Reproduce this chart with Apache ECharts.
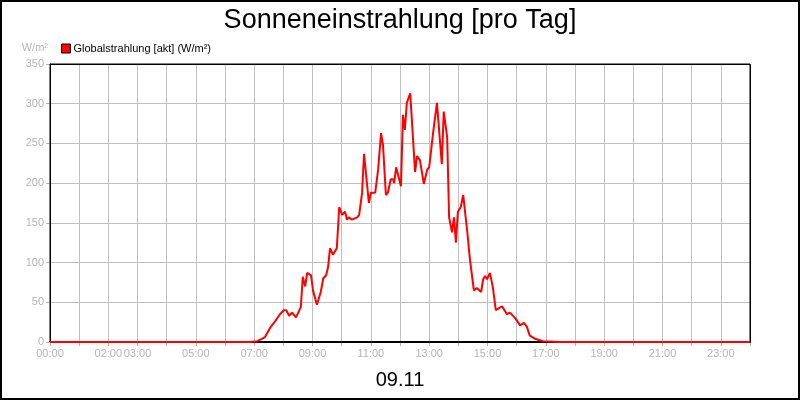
<!DOCTYPE html>
<html>
<head>
<meta charset="utf-8">
<script src="https://cdn.jsdelivr.net/npm/echarts@6/dist/echarts.min.js"></script>
<style>
  html, body { margin: 0; padding: 0; background: #fff; }
  #main { width: 800px; height: 400px; }
</style>
</head>
<body>
<div id="main"></div>
<script>
// Messzeitpunkte (HH:MM) und Werte in W/m²
var times = ['00:00', '06:51', '07:06', '07:16', '07:22', '07:33', '07:43', '07:53', '08:01', '08:06',
    '08:12', '08:18', '08:26', '08:30', '08:36', '08:40', '08:45', '08:49', '08:57', '09:01',
    '09:09', '09:11', '09:17', '09:22', '09:28', '09:32', '09:36', '09:42', '09:50', '09:55',
    '10:01', '10:07', '10:11', '10:15', '10:21', '10:32', '10:36', '10:42', '10:46', '10:56',
    '11:00', '11:09', '11:15', '11:21', '11:25', '11:31', '11:35', '11:41', '11:46', '11:48',
    '11:52', '11:56', '12:02', '12:06', '12:10', '12:14', '12:21', '12:31', '12:35', '12:41',
    '12:49', '12:56', '13:00', '13:08', '13:16', '13:26', '13:30', '13:37', '13:41', '13:47',
    '13:51', '13:55', '13:59', '14:05', '14:10', '14:18', '14:24', '14:32', '14:38', '14:42',
    '14:47', '14:51', '14:55', '14:59', '15:05', '15:11', '15:17', '15:22', '15:30', '15:40',
    '15:46', '15:57', '16:07', '16:15', '16:21', '16:27', '16:38', '16:54', '17:29', '24:00'];
var values = [0, 0, 1, 4, 6, 18, 26, 35, 40, 40,
    33, 37, 31, 31, 44, 82, 70, 87, 84, 65,
    47, 48, 63, 80, 84, 94, 118, 110, 118, 170,
    160, 164, 154, 157, 154, 157, 160, 188, 237, 175,
    188, 188, 217, 263, 248, 185, 188, 205, 205, 200,
    220, 220, 196, 286, 267, 301, 313, 214, 234, 229,
    199, 217, 220, 263, 301, 224, 290, 258, 157, 138,
    157, 125, 164, 170, 185, 141, 103, 65, 68, 69,
    63, 79, 83, 79, 87, 69, 40, 42, 45, 35,
    37, 30, 21, 24, 19, 8, 4, 1, 0, 0];
// beschriftete Stunden der x-Achse
var tickLabels = ['00:00', '02:00', '03:00', '05:00', '07:00', '09:00', '11:00',
    '13:00', '15:00', '17:00', '19:00', '21:00', '23:00'];

function toMin(s) {
    var p = s.split(':');
    return parseInt(p[0], 10) * 60 + parseInt(p[1], 10);
}

var points = [];
for (var i = 0; i < times.length; i++) {
    points.push([toMin(times[i]), values[i]]);
}

var font = '"Liberation Sans", Arial, sans-serif';
var grey = '#b4b4b4';

var myChart = echarts.init(document.getElementById('main'));

var option = {
    animation: false,
    backgroundColor: '#fff',
    textStyle: { fontFamily: font },
    title: {
        text: 'Sonneneinstrahlung [pro Tag]',
        left: 'center',
        top: 2,
        textStyle: { fontFamily: font, fontSize: 27, fontWeight: 'normal', color: '#000' }
    },
    legend: {
        left: 56,
        top: 38,
        icon: 'rect',
        itemWidth: 9,
        itemHeight: 9,
        itemGap: 4,
        textStyle: { fontFamily: font, fontSize: 11, color: '#000', padding: [0, 0, 0, -2] },
        data: [{ name: 'Globalstrahlung [akt] (W/m²)', itemStyle: { color: '#ff0000', borderColor: '#000', borderWidth: 1 } }]
    },
    grid: {
        left: 50,
        right: 50,
        top: 64,
        bottom: 58,
        show: true,
        borderColor: '#000',
        borderWidth: 1,
        z: 3
    },
    xAxis: {
        type: 'value',
        min: 0,
        max: 1440,
        interval: 60,
        name: '09.11',
        nameLocation: 'middle',
        nameGap: 28,
        nameTextStyle: { fontFamily: font, fontSize: 20, color: '#000' },
        axisLine: { lineStyle: { color: '#000', width: 2 } },
        axisTick: { show: true, length: 4, lineStyle: { color: grey } },
        axisLabel: {
            color: grey,
            fontSize: 11,
            margin: 6,
            formatter: function (v) {
                var h = Math.round(v / 60);
                var s = (h < 10 ? '0' : '') + h + ':00';
                return tickLabels.indexOf(s) >= 0 && h < 24 ? s : '';
            }
        },
        splitLine: { show: true, showMinLine: false, showMaxLine: false, lineStyle: { color: '#c0c0c0', width: 1 } }
    },
    yAxis: {
        type: 'value',
        min: 0,
        max: 350,
        interval: 50,
        name: 'W/m²',
        nameLocation: 'end',
        nameGap: 11,
        nameTextStyle: { fontFamily: font, fontSize: 11, color: grey, align: 'right', padding: [0, 2, 0, 0] },
        axisLine: { show: true, lineStyle: { color: '#000' } },
        axisTick: { show: true, length: 4, lineStyle: { color: grey } },
        axisLabel: { color: grey, fontSize: 11, margin: 6 },
        splitLine: { show: true, showMinLine: false, showMaxLine: false, lineStyle: { color: '#c0c0c0', width: 1 } }
    },
    series: [{
        name: 'Globalstrahlung [akt] (W/m²)',
        type: 'line',
        showSymbol: false,
        smooth: false,
        lineStyle: { color: '#ff0000', width: 2 },
        itemStyle: { color: '#ff0000' },
        data: points
    }],
    graphic: [{
        type: 'rect',
        shape: { x: 50.5, y: 64.5, width: 700, height: 278 },
        style: { fill: 'none', stroke: '#000', lineWidth: 1 },
        silent: true,
        z: 1
    }, {
        type: 'rect',
        shape: { x: 1, y: 1, width: 798, height: 398 },
        style: { fill: 'none', stroke: '#000', lineWidth: 2 },
        silent: true
    }]
};

myChart.setOption(option);
</script>
</body>
</html>
